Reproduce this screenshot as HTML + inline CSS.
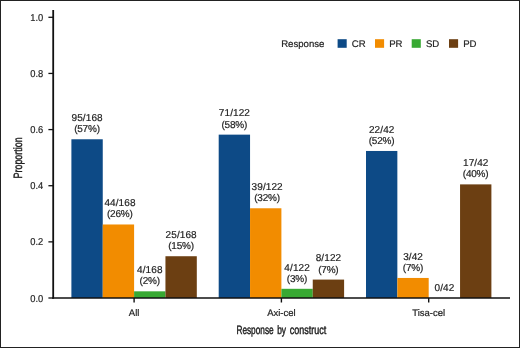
<!DOCTYPE html>
<html><head><meta charset="utf-8">
<style>
html,body{margin:0;padding:0;background:#fff;}
body{width:520px;height:348px;overflow:hidden;position:relative;}
.frame{position:absolute;left:0;top:0;width:518px;height:346px;border:1px solid #222;}
svg{position:absolute;left:0;top:0;will-change:transform;}
text{text-rendering:geometricPrecision;font-family:"Liberation Sans",sans-serif;fill:#1e1e1e;stroke:#1e1e1e;stroke-width:0.2px;}
.dl{font-size:10px;text-anchor:middle;}
.tk{font-size:10.0px;text-anchor:end;}
.cat{font-size:9.5px;text-anchor:middle;}
.lg{font-size:9.6px;}
.ttl{font-size:12px;font-weight:normal;stroke:#1e1e1e;stroke-width:0.45px;}
</style></head><body>
<div class="frame"></div>
<svg width="520" height="348" viewBox="0 0 520 348">
<rect x="71.40" y="139.27" width="31.35" height="158.73" fill="#0d4a86"/>
<rect x="102.75" y="224.48" width="31.35" height="73.52" fill="#f28c00"/>
<rect x="134.10" y="291.32" width="31.35" height="6.68" fill="#38a933"/>
<rect x="165.45" y="256.23" width="31.35" height="41.77" fill="#6c3f12"/>
<rect x="218.70" y="134.64" width="31.35" height="163.36" fill="#0d4a86"/>
<rect x="250.05" y="208.27" width="31.35" height="89.73" fill="#f28c00"/>
<rect x="281.40" y="288.80" width="31.35" height="9.20" fill="#38a933"/>
<rect x="312.75" y="279.59" width="31.35" height="18.41" fill="#6c3f12"/>
<rect x="366.00" y="150.97" width="31.35" height="147.03" fill="#0d4a86"/>
<rect x="397.35" y="277.95" width="31.35" height="20.05" fill="#f28c00"/>
<rect x="460.05" y="184.38" width="31.35" height="113.62" fill="#6c3f12"/>
<text class="dl" x="87.12" y="120.97" letter-spacing="0.1">95/168</text>
<text class="dl" x="86.97" y="132.27" letter-spacing="-0.2">(57%)</text>
<text class="dl" x="119.97" y="206.18" letter-spacing="0.1">44/168</text>
<text class="dl" x="119.83" y="217.48" letter-spacing="-0.2">(26%)</text>
<text class="dl" x="149.83" y="273.02" letter-spacing="0.1">4/168</text>
<text class="dl" x="149.68" y="284.32" letter-spacing="-0.2">(2%)</text>
<text class="dl" x="181.18" y="237.93" letter-spacing="0.1">25/168</text>
<text class="dl" x="181.03" y="249.23" letter-spacing="-0.2">(15%)</text>
<text class="dl" x="234.43" y="116.34" letter-spacing="0.1">71/122</text>
<text class="dl" x="234.28" y="127.64" letter-spacing="-0.2">(58%)</text>
<text class="dl" x="267.17" y="189.97" letter-spacing="0.1">39/122</text>
<text class="dl" x="267.02" y="201.27" letter-spacing="-0.2">(32%)</text>
<text class="dl" x="297.12" y="270.50" letter-spacing="0.1">4/122</text>
<text class="dl" x="296.97" y="281.80" letter-spacing="-0.2">(3%)</text>
<text class="dl" x="328.48" y="261.29" letter-spacing="0.1">8/122</text>
<text class="dl" x="328.32" y="272.59" letter-spacing="-0.2">(7%)</text>
<text class="dl" x="381.73" y="132.67" letter-spacing="0.1">22/42</text>
<text class="dl" x="381.57" y="143.97" letter-spacing="-0.2">(52%)</text>
<text class="dl" x="413.08" y="259.65" letter-spacing="0.1">3/42</text>
<text class="dl" x="412.93" y="270.95" letter-spacing="-0.2">(7%)</text>
<text class="dl" x="444.43" y="291.00" letter-spacing="0.1">0/42</text>
<text class="dl" x="475.78" y="166.08" letter-spacing="0.1">17/42</text>
<text class="dl" x="475.62" y="177.38" letter-spacing="-0.2">(40%)</text>
<line x1="53.2" y1="10" x2="53.2" y2="298.80" stroke="#111" stroke-width="1.8"/>
<line x1="52.3" y1="298.00" x2="510" y2="298.00" stroke="#111" stroke-width="1.6"/>
<line x1="48.4" y1="298.00" x2="53" y2="298.00" stroke="#111" stroke-width="1.3"/>
<text class="tk" x="43.3" y="301.50" textLength="13.0" lengthAdjust="spacingAndGlyphs">0.0</text>
<line x1="48.4" y1="241.86" x2="53" y2="241.86" stroke="#111" stroke-width="1.3"/>
<text class="tk" x="43.3" y="245.36" textLength="13.0" lengthAdjust="spacingAndGlyphs">0.2</text>
<line x1="48.4" y1="185.72" x2="53" y2="185.72" stroke="#111" stroke-width="1.3"/>
<text class="tk" x="43.3" y="189.22" textLength="13.0" lengthAdjust="spacingAndGlyphs">0.4</text>
<line x1="48.4" y1="129.58" x2="53" y2="129.58" stroke="#111" stroke-width="1.3"/>
<text class="tk" x="43.3" y="133.08" textLength="13.0" lengthAdjust="spacingAndGlyphs">0.6</text>
<line x1="48.4" y1="73.44" x2="53" y2="73.44" stroke="#111" stroke-width="1.3"/>
<text class="tk" x="43.3" y="76.94" textLength="13.0" lengthAdjust="spacingAndGlyphs">0.8</text>
<line x1="48.4" y1="17.30" x2="53" y2="17.30" stroke="#111" stroke-width="1.3"/>
<text class="tk" x="43.3" y="20.80" textLength="13.0" lengthAdjust="spacingAndGlyphs">1.0</text>
<line x1="134.10" y1="298.00" x2="134.10" y2="302.5" stroke="#111" stroke-width="1.4"/>
<text class="cat" x="134.10" y="315.9">All</text>
<line x1="281.40" y1="298.00" x2="281.40" y2="302.5" stroke="#111" stroke-width="1.4"/>
<text class="cat" x="281.40" y="315.9">Axi-cel</text>
<line x1="428.70" y1="298.00" x2="428.70" y2="302.5" stroke="#111" stroke-width="1.4"/>
<text class="cat" x="428.70" y="315.9">Tisa-cel</text>
<text class="ttl" x="236.42" y="333.8" textLength="37.25" lengthAdjust="spacingAndGlyphs">Response</text>
<text class="ttl" x="277.16" y="333.8" textLength="8.86" lengthAdjust="spacingAndGlyphs">by</text>
<text class="ttl" x="289.82" y="333.8" textLength="36.55" lengthAdjust="spacingAndGlyphs">construct</text>
<text class="ttl" transform="translate(21.6,178.43) rotate(-90)" x="0" y="0" textLength="41.01" lengthAdjust="spacingAndGlyphs">Proportion</text>
<text class="lg" x="281.2" y="46.6">Response</text>
<rect x="337.6" y="39.2" width="9.1" height="8.6" fill="#0d4a86"/>
<text class="lg" x="351.8" y="46.6">CR</text>
<rect x="375" y="39.2" width="9.1" height="8.6" fill="#f28c00"/>
<text class="lg" x="389.2" y="46.6">PR</text>
<rect x="411.7" y="39.2" width="9.1" height="8.6" fill="#38a933"/>
<text class="lg" x="425.9" y="46.6">SD</text>
<rect x="449" y="39.2" width="9.1" height="8.6" fill="#6c3f12"/>
<text class="lg" x="463.2" y="46.6">PD</text>
</svg>
</body></html>
